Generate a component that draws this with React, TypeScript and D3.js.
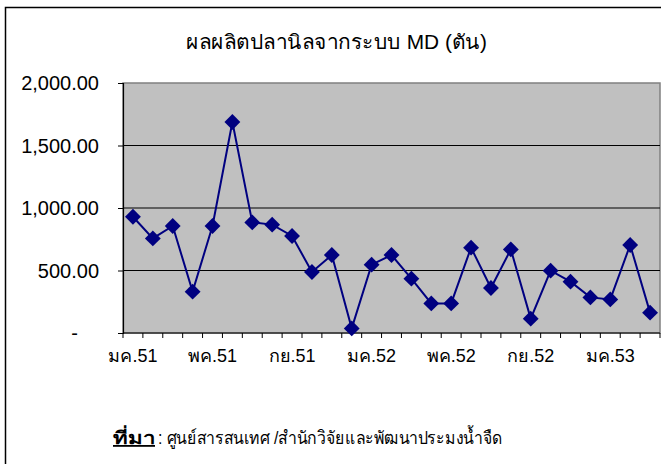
import React, { useRef, useEffect } from 'react';
import * as d3 from 'd3';

const months: string[] = [
  'มค.51', 'กพ.51', 'มีค.51', 'เมย.51', 'พค.51', 'มิย.51', 'กค.51', 'สค.51', 'กย.51', 'ตค.51', 'พย.51', 'ธค.51',
  'มค.52', 'กพ.52', 'มีค.52', 'เมย.52', 'พค.52', 'มิย.52', 'กค.52', 'สค.52', 'กย.52', 'ตค.52', 'พย.52', 'ธค.52',
  'มค.53', 'กพ.53', 'มีค.53'
];

const production: number[] = [
  930, 757, 856, 331, 856, 1688, 885, 867, 776, 488, 624, 37,
  547, 624, 435, 237, 237, 683, 360, 669, 115, 499, 411, 285,
  269, 704, 163
];

const yTicks: number[] = [0, 500, 1000, 1500, 2000];
const shownLabels: string[] = ['มค.51', 'พค.51', 'กย.51', 'มค.52', 'พค.52', 'กย.52', 'มค.53'];

const FONT = "'Liberation Sans', Arial, 'Noto Sans', 'DejaVu Sans', sans-serif";

const App: React.FC = () => {
  const svgRef = useRef<SVGSVGElement>(null);

  useEffect(() => {
    if (!svgRef.current) return;
    const svg = d3.select(svgRef.current);
    svg.selectAll('*').remove();

    const left = 123, right = 660, top = 83, bottom = 333;

    const x = d3.scaleBand<string>().domain(months).range([left, right]);
    const y = d3.scaleLinear().domain([0, 2000]).range([bottom, top]);

    // outer frame
    svg.append('rect')
      .attr('x', 5.5).attr('y', 7.5)
      .attr('width', 700).attr('height', 500)
      .attr('fill', '#fff').attr('stroke', '#000').attr('stroke-width', 1.5);

    // title
    svg.append('text')
      .attr('x', 186).attr('y', 49)
      .attr('font-family', FONT).attr('font-size', 20)
      .attr('textLength', 301).attr('lengthAdjust', 'spacingAndGlyphs')
      .text('ผลผลิตปลานิลจากระบบ MD (ตัน)');

    // plot background
    svg.append('rect')
      .attr('x', left).attr('y', top)
      .attr('width', right - left).attr('height', bottom - top)
      .attr('fill', '#c0c0c0').attr('stroke', '#808080').attr('stroke-width', 1.5);

    // grid lines
    svg.append('g')
      .selectAll('line')
      .data(yTicks.filter(t => t > 0 && t < 2000))
      .enter().append('line')
      .attr('x1', left).attr('x2', right)
      .attr('y1', d => y(d)).attr('y2', d => y(d))
      .attr('stroke', '#000').attr('stroke-width', 1);

    // y axis
    const yAxis = svg.append('g')
      .attr('transform', `translate(${left},0)`)
      .call(d3.axisLeft(y).tickValues(yTicks).tickSize(5).tickPadding(0).tickFormat(() => ''));
    yAxis.select('.domain').attr('stroke', '#000').attr('stroke-width', 1.2);
    yAxis.selectAll('.tick line').attr('stroke', '#000');

    svg.append('g')
      .selectAll('text')
      .data(yTicks)
      .enter().append('text')
      .attr('x', d => (d === 0 ? 78 : 99))
      .attr('y', d => y(d) + 7)
      .attr('text-anchor', 'end')
      .attr('font-family', FONT).attr('font-size', 20)
      .text(d => (d === 0 ? '-' : d3.format(',.2f')(d)));

    // x axis
    const xTickPos = months.map((_, i) => left + i * x.bandwidth()).concat([right]);
    svg.append('line')
      .attr('x1', left).attr('x2', right)
      .attr('y1', bottom).attr('y2', bottom)
      .attr('stroke', '#000').attr('stroke-width', 1.2);
    svg.append('g')
      .selectAll('line')
      .data(xTickPos)
      .enter().append('line')
      .attr('x1', d => d).attr('x2', d => d)
      .attr('y1', bottom).attr('y2', bottom + 5)
      .attr('stroke', '#000');

    svg.append('g')
      .selectAll('text')
      .data(shownLabels)
      .enter().append('text')
      .attr('x', d => (x(d) || 0) + x.bandwidth() / 2)
      .attr('y', 362)
      .attr('text-anchor', 'middle')
      .attr('font-family', FONT).attr('font-size', 18)
      .text(d => d);

    // series
    const cx = (i: number) => (x(months[i]) || 0) + x.bandwidth() / 2;
    const line = d3.line<number>()
      .x((_, i) => cx(i))
      .y(d => y(d));

    svg.append('path')
      .datum(production)
      .attr('d', line)
      .attr('fill', 'none')
      .attr('stroke', '#000080')
      .attr('stroke-width', 2);

    const diamond = d3.symbol().type(d3.symbolDiamond2).size(160);
    svg.append('g')
      .selectAll('path')
      .data(production)
      .enter().append('path')
      .attr('d', diamond)
      .attr('transform', (d, i) => `translate(${cx(i)},${y(d)})`)
      .attr('fill', '#000080');

    // source
    svg.append('text')
      .attr('x', 113).attr('y', 444)
      .attr('font-family', FONT).attr('font-size', 18)
      .attr('font-weight', 'bold')
      .attr('text-decoration', 'underline')
      .attr('textLength', 42).attr('lengthAdjust', 'spacingAndGlyphs')
      .text('ที่มา');
    svg.append('text')
      .attr('x', 158).attr('y', 444)
      .attr('font-family', FONT).attr('font-size', 18)
      .attr('textLength', 345).attr('lengthAdjust', 'spacingAndGlyphs')
      .text(': ศูนย์สารสนเทศ /สำนักวิจัยและพัฒนาประมงน้ำจืด');
  }, []);

  return (
    <svg ref={svgRef} width={661} height={464} style={{ display: 'block', position: 'absolute', left: 0, top: 0 }} />
  );
};

export default App;
